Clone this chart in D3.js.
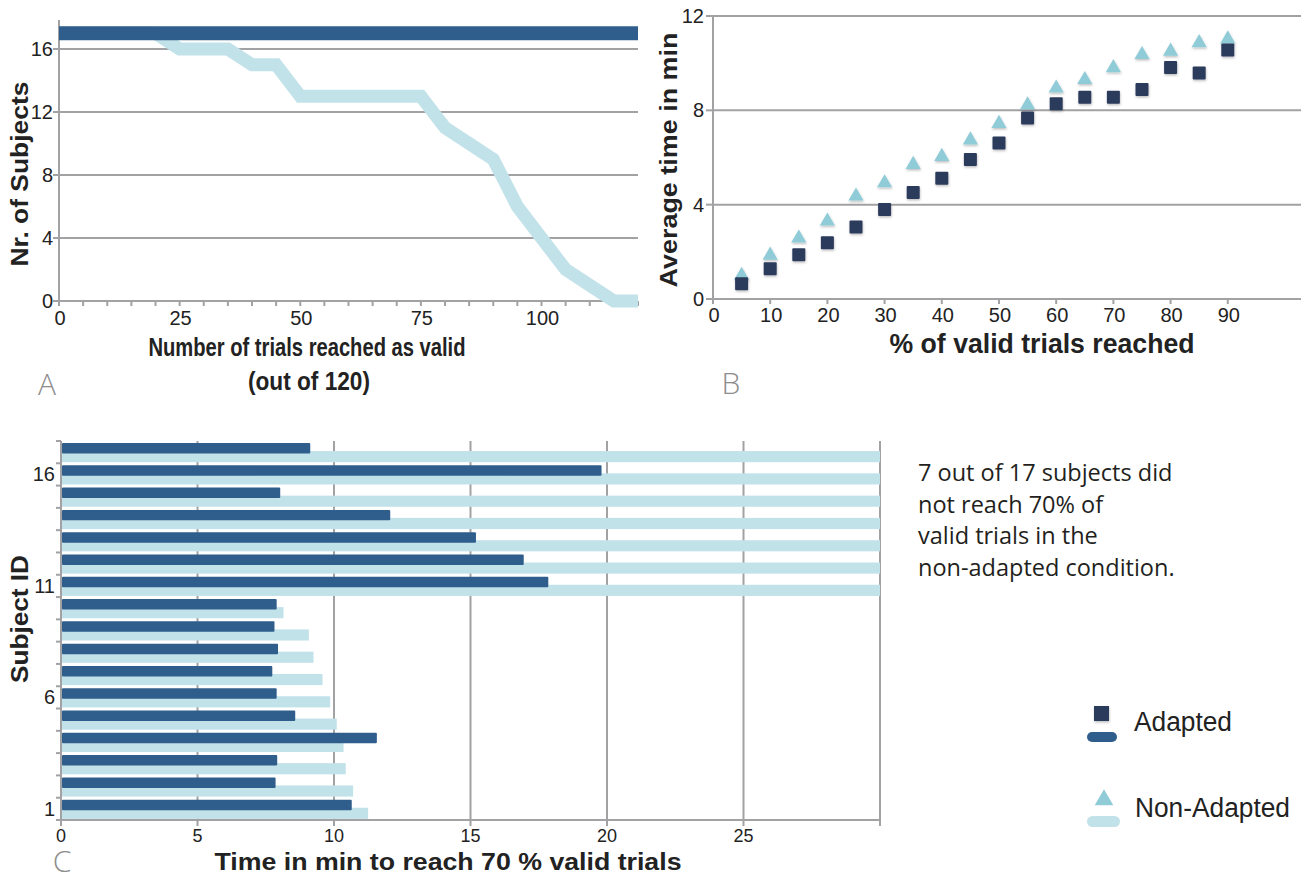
<!DOCTYPE html>
<html>
<head>
<meta charset="utf-8">
<script src="https://cdn.jsdelivr.net/npm/d3@7"></script>
<style>
  body { margin: 0; background: #fff; }
  svg { display: block; }
  text { font-family: "Liberation Sans", Arial, sans-serif; }
</style>
</head>
<body>
<svg id="fig" width="1301" height="880"></svg>
<script>
// ---- data ----
// Panel A: number of subjects still valid after N trials
const trialsA = [0, 5, 10, 15, 20, 25, 30, 35, 40, 45, 50, 55, 60, 65, 70, 75, 80, 85, 90, 95, 100, 105, 110, 115, 120];
const adaptedA = [17, 17, 17, 17, 17, 17, 17, 17, 17, 17, 17, 17, 17, 17, 17, 17, 17, 17, 17, 17, 17, 17, 17, 17, 17];
const nonAdaptedA = [17, 17, 17, 17, 17, 16, 16, 16, 15, 15, 13, 13, 13, 13, 13, 13, 11, 10, 9, 6, 4, 2, 1, 0, 0];

// Panel B: average time (min) to reach x % valid trials
const pctB = [5, 10, 15, 20, 25, 30, 35, 40, 45, 50, 55, 60, 65, 70, 75, 80, 85, 90];
const adaptedB = [0.65, 1.28, 1.88, 2.38, 3.05, 3.8, 4.52, 5.12, 5.92, 6.62, 7.68, 8.28, 8.56, 8.56, 8.88, 9.82, 9.58, 10.56];
const nonAdaptedB = [1.0, 1.85, 2.58, 3.3, 4.36, 4.92, 5.7, 6.04, 6.74, 7.44, 8.22, 8.94, 9.3, 9.8, 10.36, 10.5, 10.86, 11.02];

// Panel C: time (min) to reach 70 % valid trials per subject (null = not reached)
const subjects = d3.range(1, 18);
const adaptedC = [10.65, 7.86, 7.92, 11.57, 8.58, 7.9, 7.74, 7.95, 7.82, 7.9, 17.85, 16.95, 15.2, 12.06, 8.03, 19.8, 9.13];
const nonAdaptedC = [11.25, 10.7, 10.43, 10.35, 10.1, 9.86, 9.58, 9.25, 9.08, 8.15, null, null, null, null, null, null, null];

const ticksA_y = [0, 4, 8, 12, 16];
const ticksA_x = [0, 25, 50, 75, 100];
const ticksB_y = [0, 4, 8, 12];
const ticksB_x = [0, 10, 20, 30, 40, 50, 60, 70, 80, 90];
const ticksC_x = [0, 5, 10, 15, 20, 25];
const labelsC_y = [1, 6, 11, 16];

const DARK = "#2f5e8c";
const LIGHT = "#c2e2ea";
const SQUARE = "#2c3b5c";
const TRI = "#90cbd8";
const GRID = "#a2a2a4";
const TXT = "#222";

const svg = d3.select("#fig");
svg.append("rect").attr("width", 1301).attr("height", 880).attr("fill", "#fff");

const defs = svg.append("defs");
defs.append("filter").attr("id", "shadow")
    .attr("x", "-50%").attr("y", "-50%").attr("width", "200%").attr("height", "200%")
    .append("feDropShadow")
    .attr("dx", 0.5).attr("dy", 1.5).attr("stdDeviation", 0.8)
    .attr("flood-color", "#000").attr("flood-opacity", 0.25);

const hline = (g, x1, x2, y) => g.append("line").attr("x1", x1).attr("x2", x2).attr("y1", y).attr("y2", y)
    .attr("stroke", GRID).attr("stroke-width", 2);
const vline = (g, x, y1, y2) => g.append("line").attr("x1", x).attr("x2", x).attr("y1", y1).attr("y2", y2)
    .attr("stroke", GRID).attr("stroke-width", 2);

// bold title squeezed/stretched to the width seen in the figure
const title = (g, x, y, txt, size, len, rot) => g.append("text")
    .attr("transform", `translate(${x},${y})` + (rot ? " rotate(-90)" : ""))
    .attr("text-anchor", "middle").attr("font-weight", "bold").attr("font-size", size).attr("fill", TXT)
    .attr("textLength", len).attr("lengthAdjust", "spacingAndGlyphs").text(txt);

// ================= Panel A =================
const xA = d3.scaleLinear().domain([0, 120]).range([59, 638]);
const yA = d3.scaleLinear().domain([0, 17.84]).range([301, 20]);
const gA = svg.append("g");

ticksA_y.forEach(t => {
    hline(gA, xA(0), xA(120), yA(t));
    gA.append("line").attr("x1", xA(0) - 6).attr("x2", xA(0)).attr("y1", yA(t)).attr("y2", yA(t))
        .attr("stroke", GRID).attr("stroke-width", 2);
});
vline(gA, xA(0), yA.range()[1], yA(0) + 1);
d3.range(0, 121, 5).forEach(t => {
    gA.append("line").attr("x1", xA(t)).attr("x2", xA(t)).attr("y1", yA(0)).attr("y2", yA(0) + 5)
        .attr("stroke", GRID).attr("stroke-width", 2);
});

gA.selectAll(".ytl").data(ticksA_y).join("text")
    .attr("x", 53).attr("y", d => yA(d) + 7)
    .attr("text-anchor", "end").attr("font-size", 20).attr("fill", TXT).text(d => d);
gA.selectAll(".xtl").data(ticksA_x).join("text")
    .attr("x", d => xA(d) + 1).attr("y", 325)
    .attr("text-anchor", "middle").attr("font-size", 20).attr("fill", TXT).text(d => d);

const lineA = d3.line().x(d => xA(d[0])).y(d => yA(d[1]));
gA.append("path").datum(d3.zip(trialsA, nonAdaptedA)).attr("d", lineA)
    .attr("fill", "none").attr("stroke", LIGHT).attr("stroke-width", 13).attr("stroke-linejoin", "miter");
gA.append("path").datum(d3.zip(trialsA, adaptedA)).attr("d", lineA)
    .attr("fill", "none").attr("stroke", DARK).attr("stroke-width", 14);

title(gA, 28, 174, "Nr. of Subjects", 23, 185, true);
title(gA, 307, 356, "Number of trials reached as valid", 25, 317);
title(gA, 309, 390, "(out of 120)", 25, 122);

// ================= Panel B =================
const xB = d3.scaleLinear().domain([0, 102.8]).range([713, 1301]);
const yB = d3.scaleLinear().domain([0, 12]).range([299, 16]);
const gB = svg.append("g");

ticksB_y.forEach(t => {
    hline(gB, xB(0), xB(102.8), yB(t));
    gB.append("line").attr("x1", xB(0) - 7).attr("x2", xB(0)).attr("y1", yB(t)).attr("y2", yB(t))
        .attr("stroke", GRID).attr("stroke-width", 2);
});
vline(gB, xB(0), yB(12), yB(0) + 1);
ticksB_x.forEach(t => {
    gB.append("line").attr("x1", xB(t)).attr("x2", xB(t)).attr("y1", yB(0)).attr("y2", yB(0) + 5)
        .attr("stroke", GRID).attr("stroke-width", 2);
});

gB.selectAll(".ytl").data(ticksB_y).join("text")
    .attr("x", 704).attr("y", d => yB(d) + 7)
    .attr("text-anchor", "end").attr("font-size", 20).attr("fill", TXT).text(d => d);
gB.selectAll(".xtl").data(ticksB_x).join("text")
    .attr("x", d => xB(d) + 1).attr("y", 322)
    .attr("text-anchor", "middle").attr("font-size", 20).attr("fill", TXT).text(d => d);

const tri = d3.symbol().type(d3.symbolTriangle).size(100);
gB.selectAll(".tri").data(d3.zip(pctB, nonAdaptedB)).join("path")
    .attr("d", tri).attr("transform", d => `translate(${xB(d[0])},${yB(d[1])})`)
    .attr("fill", TRI).attr("filter", "url(#shadow)");
gB.selectAll(".sq").data(d3.zip(pctB, adaptedB)).join("rect")
    .attr("x", d => xB(d[0]) - 6.5).attr("y", d => yB(d[1]) - 6.5)
    .attr("width", 13).attr("height", 13).attr("rx", 1)
    .attr("fill", SQUARE).attr("filter", "url(#shadow)");

title(gB, 677, 160, "Average time in min", 23, 255, true);
title(gB, 1042, 353, "% of valid trials reached", 27, 305);

// ================= Panel C =================
const xC = d3.scaleLinear().domain([0, 30]).range([61, 880]);
const yC = d3.scaleBand().domain(subjects.slice().reverse()).range([441, 820]);
const bw = yC.bandwidth();
const gC = svg.append("g");

[5, 10, 15, 20, 25, 30].forEach(t => vline(gC, xC(t), 441, 826));
hline(gC, xC(0), xC(30) + 1, 820);
vline(gC, xC(0), 441, 826);
d3.range(0, 18).forEach(i => {
    const y = 441 + i * bw;
    gC.append("line").attr("x1", xC(0) - 5).attr("x2", xC(0)).attr("y1", y).attr("y2", y)
        .attr("stroke", GRID).attr("stroke-width", 2);
});

const rowsC = subjects.map((s, i) => ({ s, a: adaptedC[i], n: nonAdaptedC[i] }));
gC.selectAll(".nbar").data(rowsC).join("rect")
    .attr("x", xC(0) + 1).attr("y", d => yC(d.s) + 0.45 * bw)
    .attr("width", d => xC(d.n === null ? xC.domain()[1] : d.n) - xC(0) - 1)
    .attr("height", 0.5 * bw).attr("fill", LIGHT);
gC.selectAll(".abar").data(rowsC).join("rect")
    .attr("x", xC(0) + 1).attr("y", d => yC(d.s) + 0.09 * bw)
    .attr("width", d => xC(d.a) - xC(0) - 1)
    .attr("height", 0.47 * bw).attr("rx", 1).attr("fill", DARK);

gC.selectAll(".ytl").data(labelsC_y).join("text")
    .attr("x", 55).attr("y", d => yC(d) + bw / 2 + 7)
    .attr("text-anchor", "end").attr("font-size", 20).attr("fill", TXT).text(d => d);
gC.selectAll(".xtl").data(ticksC_x).join("text")
    .attr("x", d => xC(d)).attr("y", 842)
    .attr("text-anchor", "middle").attr("font-size", 18).attr("fill", TXT).text(d => d);

title(gC, 28, 619, "Subject ID", 23, 128, true);
title(gC, 448, 870, "Time in min to reach 70 % valid trials", 23, 467);

// ---- panel letters ----
const letters = [["A", 47, 395], ["B", 731, 394], ["C", 62, 872]];
svg.selectAll(".letter").data(letters).join("text")
    .attr("x", d => d[1]).attr("y", d => d[2]).attr("text-anchor", "middle")
    .style("font-family", "'Open Sans', 'Noto Sans', sans-serif").attr("font-weight", 300)
    .attr("font-size", 30).attr("fill", "#8d8d8d").text(d => d[0]);

// ---- annotation ----
const note = ["7 out of 17 subjects did", "not reach 70% of", "valid trials in the", "non-adapted condition."];
svg.selectAll(".note").data(note).join("text")
    .attr("x", 918).attr("y", (d, i) => 481 + i * 31.7)
    .style("font-family", "'Open Sans', 'Noto Sans', sans-serif").attr("font-size", 23.5)
    .attr("fill", "#231f20").text(d => d);

// ---- legend ----
const lg = svg.append("g");
lg.append("rect").attr("x", 1094).attr("y", 706).attr("width", 15).attr("height", 15)
    .attr("fill", SQUARE).attr("filter", "url(#shadow)");
lg.append("rect").attr("x", 1087).attr("y", 732).attr("width", 30).attr("height", 10).attr("rx", 5).attr("fill", DARK);
lg.append("text").attr("x", 1134).attr("y", 731).attr("font-size", 27).attr("fill", TXT)
    .attr("textLength", 98).attr("lengthAdjust", "spacingAndGlyphs").text("Adapted");
lg.append("path").attr("d", d3.symbol().type(d3.symbolTriangle).size(150))
    .attr("transform", "translate(1104,800)").attr("fill", TRI);
lg.append("rect").attr("x", 1087).attr("y", 816).attr("width", 33).attr("height", 11).attr("rx", 5.5).attr("fill", LIGHT);
lg.append("text").attr("x", 1135).attr("y", 817).attr("font-size", 27).attr("fill", TXT)
    .attr("textLength", 155).attr("lengthAdjust", "spacingAndGlyphs").text("Non-Adapted");
</script>
</body>
</html>
